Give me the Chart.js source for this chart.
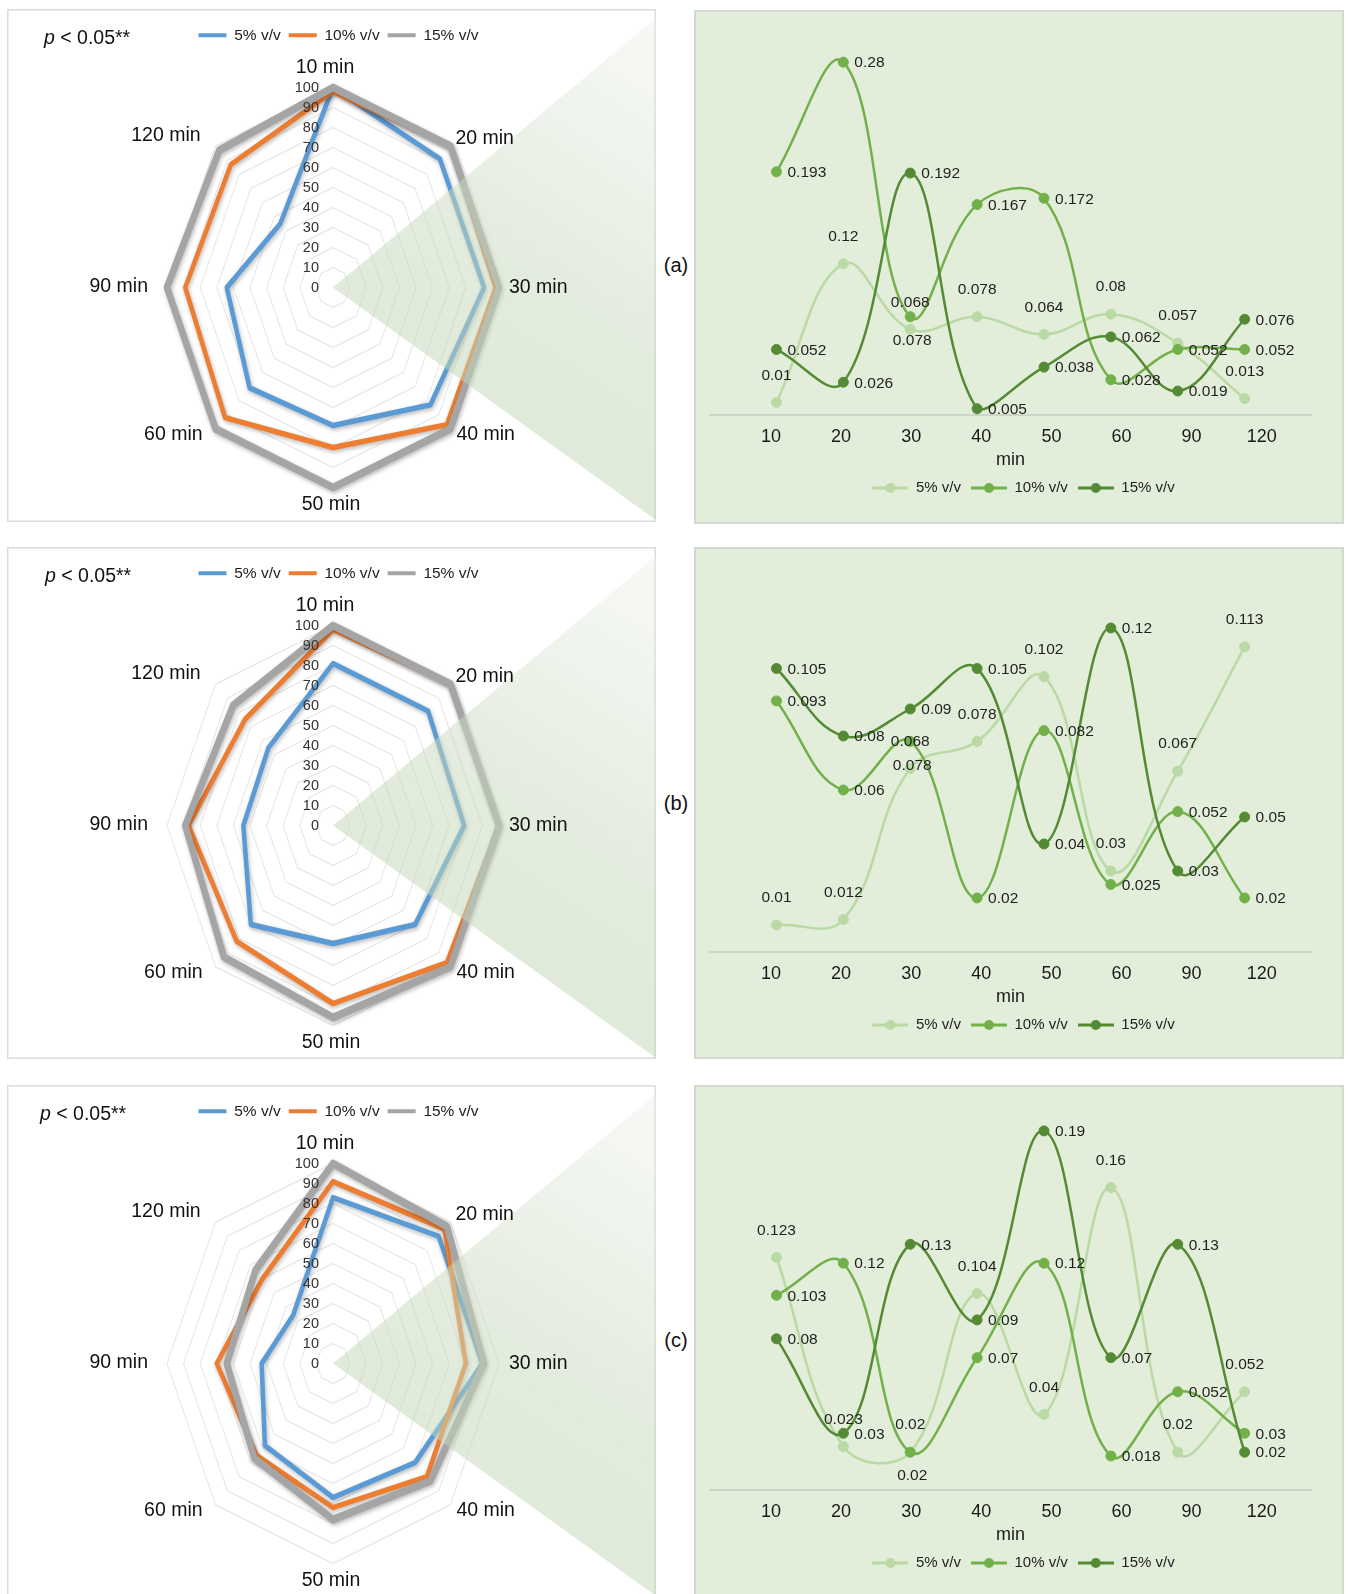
<!DOCTYPE html>
<html>
<head>
<meta charset="utf-8">
<script src="https://cdn.jsdelivr.net/npm/chart.js@4/dist/chart.umd.min.js"></script>
<style>
html, body { margin: 0; padding: 0; background: #fff; }
body { width: 1348px; height: 1594px; position: relative; overflow: hidden;
       font-family: "Liberation Sans", Arial, Helvetica, sans-serif; color: #111; }
.radar-panel { position: absolute; left: 7px; width: 649px; background: #fff;
               box-shadow: inset 0 0 0 1.5px #dcdcdc; overflow: hidden; }
.line-panel { position: absolute; left: 694px; width: 650px; background: #E2EEDA;
              box-shadow: inset 0 0 0 2px #d4d9d0; overflow: hidden; }
canvas { position: absolute; left: 0; top: 0; }
.ptext { position: absolute; top: 17px; font-size: 19.5px; line-height: 22px; white-space: nowrap; }
.tag { position: absolute; left: 656px; width: 40px; text-align: center; font-size: 20px; line-height: 24px; }
</style>
</head>
<body>

<div class="radar-panel" style="top:9px;height:513px"><canvas id="radarA" width="649" height="513"></canvas><div class="ptext" style="left:37px"><i>p</i> &lt; 0.05**</div></div>
<div class="tag" style="top:253px">(a)</div>
<div class="line-panel" style="top:10px;height:514px"><canvas id="lineA" width="650" height="513"></canvas></div>

<div class="radar-panel" style="top:547px;height:512px"><canvas id="radarB" width="649" height="513"></canvas><div class="ptext" style="left:38px"><i>p</i> &lt; 0.05**</div></div>
<div class="tag" style="top:791px">(b)</div>
<div class="line-panel" style="top:547px;height:512px"><canvas id="lineB" width="650" height="513"></canvas></div>

<div class="radar-panel" style="top:1085px;height:515px"><canvas id="radarC" width="649" height="513"></canvas><div class="ptext" style="left:33px"><i>p</i> &lt; 0.05**</div></div>
<div class="tag" style="top:1328px">(c)</div>
<div class="line-panel" style="top:1085px;height:515px"><canvas id="lineC" width="650" height="513"></canvas></div>

<script>
// ---- shared categories and labels ----
const minutes = ['10', '20', '30', '40', '50', '60', '90', '120'];
const radarLabels = ['10 min', '20 min', '30 min', '40 min', '50 min', '60 min', '90 min', '120 min'];
const radarTicks = [0, 10, 20, 30, 40, 50, 60, 70, 80, 90, 100];
const seriesNames = ['5% v/v', '10% v/v', '15% v/v'];

// ---- radar values (0-100) per sampling time ----
const radarA5  = [100, 91, 91, 83, 69, 71, 64, 45];
const radarA10 = [98, 100, 98, 97, 80, 92, 89, 87];
const radarA15 = [100, 100, 100, 100, 100, 100, 100, 97];

const radarB5  = [81, 81, 79, 70, 59, 70, 54, 55];
const radarB10 = [98, 100, 100, 97, 89, 82, 87, 75];
const radarB15 = [100, 100, 100, 100, 96, 93, 89, 85];

const radarC5  = [83, 90, 90, 70, 67, 58, 43, 34];
const radarC10 = [91, 95, 80, 80, 72, 65, 70, 60];
const radarC15 = [100, 97, 91, 83, 78, 67, 64, 66];

// ---- line values per sampling time ----
const lineA5  = [0.01, 0.12, 0.068, 0.078, 0.064, 0.08, 0.057, 0.013];
const lineA10 = [0.193, 0.28, 0.078, 0.167, 0.172, 0.028, 0.052, 0.052];
const lineA15 = [0.052, 0.026, 0.192, 0.005, 0.038, 0.062, 0.019, 0.076];

const lineB5  = [0.01, 0.012, 0.068, 0.078, 0.102, 0.03, 0.067, 0.113];
const lineB10 = [0.093, 0.06, 0.078, 0.02, 0.082, 0.025, 0.052, 0.02];
const lineB15 = [0.105, 0.08, 0.09, 0.105, 0.04, 0.12, 0.03, 0.05];

const lineC5  = [0.123, 0.023, 0.02, 0.104, 0.04, 0.16, 0.02, 0.052];
const lineC10 = [0.103, 0.12, 0.02, 0.07, 0.12, 0.018, 0.052, 0.03];
const lineC15 = [0.08, 0.03, 0.13, 0.09, 0.19, 0.07, 0.13, 0.02];

const lineMaxA = 0.3, lineMaxB = 0.14, lineMaxC = 0.2;

// ---- styling ----
const FONT = '"Liberation Sans", Arial, Helvetica, sans-serif';
Chart.defaults.font.family = FONT;
Chart.defaults.color = '#1a1a1a';
Chart.defaults.animation = false;

const radarColors = ['#5B9BD5', '#ED7D31', '#A5A5A5'];
const radarWidths = [4.5, 4.5, 6.5];
const lineColors = ['#BAD9A4', '#72B04A', '#558A35'];

// radar geometry inside its canvas: centre and vertical stretch of the web
const RADAR_CX = 326, RADAR_CY = 278.5, RADAR_K = 200 / 166;
// offsets of the category captions from the outer ring vertex
const captionOffsets = [
  [-8, -20, 'center'], [5, -7, 'left'], [10, 0, 'left'], [6, 6, 'left'],
  [-2, 17, 'center'], [-13, 6, 'right'], [-19, -1, 'right'], [-15, -10, 'right']
];

function applyRadarTransform(ctx, s) {
  ctx.translate(RADAR_CX, RADAR_CY);
  ctx.scale(1, RADAR_K);
  ctx.translate(-s.xCenter, -s.yCenter);
}

const radarLook = {
  id: 'radarLook',
  afterLayout(chart) {
    const s = chart.scales.r;
    if (!s._stretched) {
      const orig = s.drawGrid;
      s.drawGrid = function (area) {
        const ctx = this.ctx;
        ctx.save();
        applyRadarTransform(ctx, this);
        orig.call(this, area);
        ctx.restore();
      };
      s._stretched = true;
    }
  },
  beforeDatasetsDraw(chart) {
    chart.ctx.save();
    applyRadarTransform(chart.ctx, chart.scales.r);
  },
  beforeDatasetDraw(chart) {
    const ctx = chart.ctx;
    ctx.shadowColor = 'rgba(0,0,0,0.28)';
    ctx.shadowBlur = 4;
    ctx.shadowOffsetX = 1;
    ctx.shadowOffsetY = 2;
  },
  afterDatasetDraw(chart) {
    const ctx = chart.ctx;
    ctx.shadowColor = 'rgba(0,0,0,0)';
    ctx.shadowBlur = 0;
    ctx.shadowOffsetX = 0;
    ctx.shadowOffsetY = 0;
  },
  afterDatasetsDraw(chart) {
    const ctx = chart.ctx;
    ctx.restore();
    const s = chart.scales.r;
    const W = chart.width;

    // callout wedge from the centre towards the line chart
    ctx.save();
    const g = ctx.createLinearGradient(RADAR_CX, 511, W, 9);
    g.addColorStop(0, 'rgba(190,212,178,0.55)');
    g.addColorStop(0.55, 'rgba(200,218,190,0.50)');
    g.addColorStop(1, 'rgba(236,239,233,0.40)');
    ctx.fillStyle = g;
    ctx.beginPath();
    ctx.moveTo(RADAR_CX, RADAR_CY);
    ctx.lineTo(W, 9);
    ctx.lineTo(W, 511);
    ctx.closePath();
    ctx.fill();
    ctx.restore();

    const map = (p) => ({ x: RADAR_CX + (p.x - s.xCenter), y: RADAR_CY + RADAR_K * (p.y - s.yCenter) });

    ctx.save();
    ctx.textBaseline = 'middle';
    // scale values along the first spoke
    ctx.font = '14.5px ' + FONT;
    ctx.fillStyle = '#333';
    ctx.textAlign = 'right';
    radarTicks.forEach((v) => {
      const p = map(s.getPointPositionForValue(0, v));
      ctx.fillText(String(v), p.x - 14, p.y);
    });
    // category captions
    ctx.font = '19.5px ' + FONT;
    ctx.fillStyle = '#111';
    chart.data.labels.forEach((lab, i) => {
      const p = map(s.getPointPositionForValue(i, s.max));
      const o = captionOffsets[i];
      ctx.textAlign = o[2];
      ctx.fillText(lab, p.x + o[0], p.y + o[1]);
    });
    ctx.restore();
  }
};

const legendShift = {
  id: 'legendShift',
  afterLayout(chart, args, opts) {
    const lg = chart.legend;
    if (lg && opts && opts.dx) { lg.left += opts.dx; lg.right += opts.dx; }
  }
};

function makeRadar(id, series) {
  new Chart(document.getElementById(id), {
    type: 'radar',
    data: {
      labels: radarLabels,
      datasets: series.map((vals, d) => ({
        label: seriesNames[d],
        data: vals,
        borderColor: radarColors[d],
        backgroundColor: 'rgba(0,0,0,0)',
        borderWidth: radarWidths[d],
        borderJoinStyle: 'round',
        pointRadius: 0,
        fill: false,
        clip: false,
        order: 2 - d
      }))
    },
    options: {
      responsive: false,
      animation: false,
      layout: { padding: { left: 158.5, right: 158.5, top: 10.5, bottom: 0 } },
      scales: {
        r: {
          min: 0, max: 100,
          ticks: { display: false, stepSize: 10 },
          pointLabels: { display: false },
          angleLines: { display: false },
          grid: { circular: false, color: '#e6e6e6', lineWidth: 1 }
        }
      },
      plugins: {
        tooltip: { enabled: false },
        legendShift: { dx: 7 },
        legend: {
          position: 'top',
          labels: {
            boxWidth: 28, boxHeight: 4, padding: 8,
            font: { size: 15.5 }, color: '#222',
            generateLabels: (chart) => chart.data.datasets.map((ds, i) => ({
              text: ds.label, fillStyle: ds.borderColor, strokeStyle: ds.borderColor,
              lineWidth: 0, hidden: false, datasetIndex: i, fontColor: '#222'
            }))
          }
        }
      }
    },
    plugins: [radarLook, legendShift]
  });
}

// small line-with-marker pictures for the line chart legends
function legendSwatch(color) {
  const c = document.createElement('canvas');
  c.width = 36; c.height = 12;
  const x = c.getContext('2d');
  x.strokeStyle = color; x.lineWidth = 3;
  x.beginPath(); x.moveTo(0, 6); x.lineTo(36, 6); x.stroke();
  x.fillStyle = color;
  x.beginPath(); x.arc(18, 6, 5, 0, Math.PI * 2); x.fill();
  return c;
}
const swatches = lineColors.map(legendSwatch);

// value captions next to each marker
const labelsBelow = [[1, 2]];
const pointValueLabels = {
  id: 'pointValueLabels',
  afterDatasetsDraw(chart) {
    const ctx = chart.ctx;
    ctx.save();
    ctx.font = '15.5px ' + FONT;
    ctx.fillStyle = '#1f1f1f';
    ctx.textBaseline = 'middle';
    chart.data.datasets.forEach((ds, d) => {
      const meta = chart.getDatasetMeta(d);
      meta.data.forEach((pt, i) => {
        const text = String(ds.data[i].y);
        const below = labelsBelow.some((b) => b[0] === d && b[1] === i);
        if (below) {
          ctx.textAlign = 'center';
          ctx.fillText(text, pt.x + 2, pt.y + 24);
        } else if (d === 0) {
          ctx.textAlign = 'center';
          ctx.fillText(text, pt.x, pt.y - 27);
        } else {
          ctx.textAlign = 'left';
          ctx.fillText(text, pt.x + 11, pt.y + 1);
        }
      });
    });
    ctx.restore();
  }
};

function makeLine(id, series, yMax) {
  new Chart(document.getElementById(id), {
    type: 'line',
    data: {
      datasets: series.map((vals, d) => ({
        label: seriesNames[d],
        data: vals.map((v, i) => ({ x: i, y: v })),
        borderColor: lineColors[d],
        backgroundColor: lineColors[d],
        pointBackgroundColor: lineColors[d],
        pointBorderColor: lineColors[d],
        borderWidth: 2.5,
        pointRadius: 5,
        pointBorderWidth: 1,
        tension: 0.4,
        fill: false,
        clip: false,
        order: 2 - d
      }))
    },
    options: {
      responsive: false,
      animation: false,
      layout: { padding: { left: 15.6, right: 32.5, top: 27, bottom: 17.5 } },
      scales: {
        x: {
          type: 'linear', position: 'bottom', min: -1, max: 8, weight: 0,
          ticks: { display: false },
          grid: { display: false, drawTicks: false },
          border: { display: true, color: '#CDD5C8', width: 2 },
          afterFit: (s) => { s.height = 0; }
        },
        xl: {
          type: 'linear', position: 'bottom', axis: 'x', min: -0.876, max: 7.71, weight: 1,
          afterBuildTicks: (s) => { s.ticks = minutes.map((m, i) => ({ value: i })); },
          ticks: {
            callback: (v) => minutes[v],
            font: { size: 18 }, color: '#1a1a1a', padding: 11.2,
            maxRotation: 0, autoSkip: false
          },
          grid: { display: false, drawTicks: false },
          border: { display: false },
          title: { display: true, text: 'min', font: { size: 18 }, color: '#1a1a1a', padding: 0 },
          afterFit: (s) => { s.height = 55.5; }
        },
        y: { display: false, min: 0, max: yMax }
      },
      plugins: {
        tooltip: { enabled: false },
        legendShift: { dx: 13 },
        legend: {
          position: 'bottom',
          labels: {
            usePointStyle: true, pointStyleWidth: 36, boxHeight: 12, padding: 10,
            font: { size: 15 }, color: '#1f1f1f',
            sort: (a, b) => a.datasetIndex - b.datasetIndex,
            generateLabels: (chart) => Chart.defaults.plugins.legend.labels.generateLabels(chart)
              .map((it) => Object.assign(it, { pointStyle: swatches[it.datasetIndex], fontColor: '#1f1f1f' }))
          }
        }
      }
    },
    plugins: [pointValueLabels, legendShift]
  });
}

makeRadar('radarA', [radarA5, radarA10, radarA15]);
makeRadar('radarB', [radarB5, radarB10, radarB15]);
makeRadar('radarC', [radarC5, radarC10, radarC15]);

makeLine('lineA', [lineA5, lineA10, lineA15], lineMaxA);
makeLine('lineB', [lineB5, lineB10, lineB15], lineMaxB);
makeLine('lineC', [lineC5, lineC10, lineC15], lineMaxC);
</script>
</body>
</html>
